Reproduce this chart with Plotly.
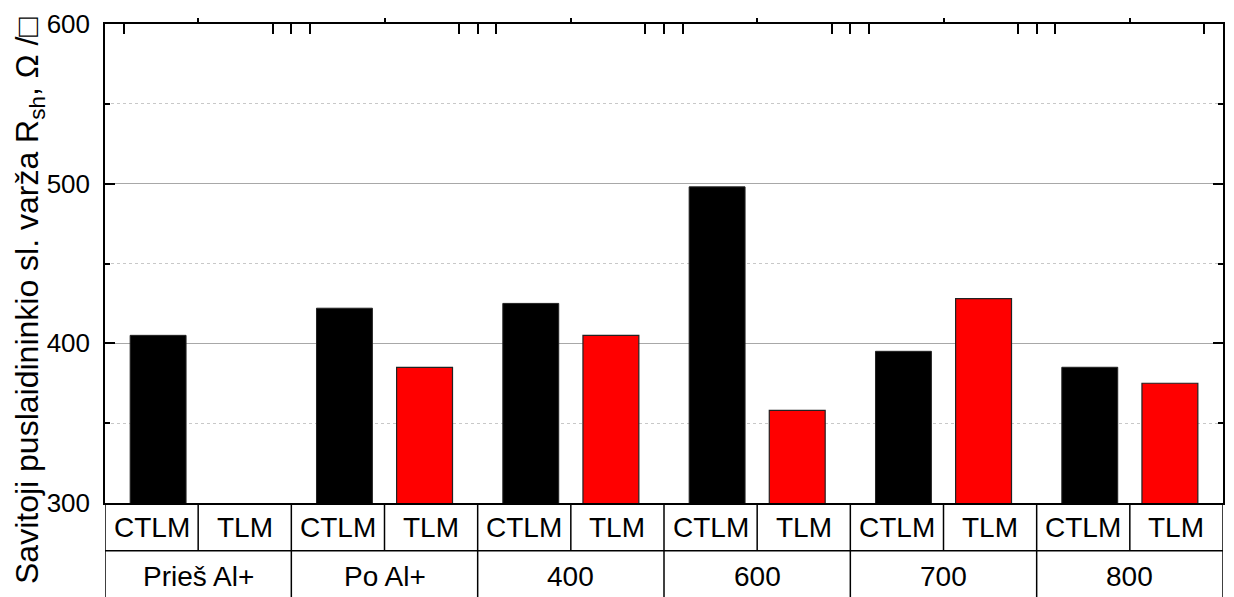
import plotly.graph_objects as go

# ---- data ----
groups = ["Prieš Al+", "Po Al+", "400", "600", "700", "800"]
methods = ["CTLM", "TLM"]
ctlm_vals = [405, 422, 425, 498, 395, 385]
tlm_vals = [None, 385, 405, 358, 428, 375]
y_ticks = [300, 400, 500, 600]

FONT = "Liberation Sans, Arial, sans-serif"
n_groups = len(groups)
n_cells = n_groups * len(methods)
centers = [2 * k + 1 for k in range(n_groups)]
offset = 0.43
bar_w = 0.6

fig = go.Figure()
fig.add_trace(go.Bar(
    x=[c - offset for c in centers], y=ctlm_vals, width=bar_w,
    marker=dict(color="black", line=dict(color="#222222", width=1)),
    name="CTLM", showlegend=False))
fig.add_trace(go.Bar(
    x=[c + offset for c in centers], y=tlm_vals, width=bar_w,
    marker=dict(color="#ff0000", line=dict(color="#222222", width=1.2)),
    name="TLM", showlegend=False))

# hidden trace to activate top axis
fig.add_trace(go.Scatter(x=[0, n_cells], y=[300, 300], xaxis="x2", mode="lines",
                         line=dict(width=0), hoverinfo="skip", showlegend=False))

minor_top = []
for k in range(n_groups + 1):
    b = 2 * k
    for v in (b - 0.2, b, b + 0.2):
        if 0 < v < n_cells:
            minor_top.append(v)

fig.update_layout(
    width=1234, height=597,
    margin=dict(l=105, r=9, t=22, b=94),
    plot_bgcolor="white", paper_bgcolor="white",
    barmode="overlay",
    font=dict(family=FONT, size=26, color="black"),
    xaxis=dict(range=[0, n_cells], showticklabels=False, ticks="", showgrid=False,
               zeroline=False, showline=True, linecolor="black", linewidth=1.5),
    xaxis2=dict(range=[0, n_cells], overlaying="x", side="top", showticklabels=False,
                showgrid=False, zeroline=False, showline=True, linecolor="black", linewidth=1.5,
                tickmode="array", tickvals=centers, ticks="outside", ticklen=4,
                tickwidth=1.5, tickcolor="black",
                minor=dict(tickvals=minor_top, ticks="inside", ticklen=10,
                           tickwidth=1.5, tickcolor="black")),
    yaxis=dict(range=[300, 600], tickmode="array", tickvals=y_ticks,
               ticks="inside", ticklen=10, tickwidth=1.5, tickcolor="black",
               showline=True, linecolor="black", linewidth=1.5, mirror="ticks",
               showgrid=True, gridcolor="#a8a8a8", gridwidth=1, zeroline=False,
               tickfont=dict(size=26, family=FONT), ticklabelstandoff=8,
               minor=dict(dtick=50, ticks="inside", ticklen=5, tickwidth=1.5,
                          tickcolor="black", showgrid=True, gridcolor="#c8c8c8",
                          griddash="dot", gridwidth=1)),
)

# ---- table under the plot ----
plot_h = 597 - 22 - 94
row1_bot = -(551 - 503) / plot_h
row2_bot = -(597 - 503) / plot_h - 0.01
line = dict(color="black", width=1.5)
fig.add_shape(type="line", xref="x", yref="paper", x0=0, x1=n_cells,
              y0=row1_bot, y1=row1_bot, line=line)
for i in range(n_cells + 1):
    y_end = row2_bot if i % 2 == 0 else row1_bot
    fig.add_shape(type="line", xref="x", yref="paper", x0=i, x1=i,
                  y0=0, y1=y_end, line=line)

row1_mid = -(527.5 - 503) / plot_h
row2_mid = -(576.5 - 503) / plot_h
for k, g in enumerate(groups):
    for j, m in enumerate(methods):
        fig.add_annotation(x=2 * k + j + 0.5, y=row1_mid, xref="x", yref="paper",
                           text=m, showarrow=False, font=dict(size=28, family=FONT),
                           xanchor="center", yanchor="middle")
    fig.add_annotation(x=2 * k + 1, y=row2_mid, xref="x", yref="paper",
                       text=g, showarrow=False, font=dict(size=28, family=FONT),
                       xanchor="center", yanchor="middle")

# y-axis title
fig.add_annotation(x=-(105 - 30) / 1120, y=(503 - 300) / plot_h, xref="paper", yref="paper",
                   text="Savitoji puslaidininkio sl. varža R<sub>sh</sub>, Ω /□",
                   textangle=-90, showarrow=False, font=dict(size=32, family=FONT),
                   xanchor="center", yanchor="middle")

fig.write_html("out.html")
